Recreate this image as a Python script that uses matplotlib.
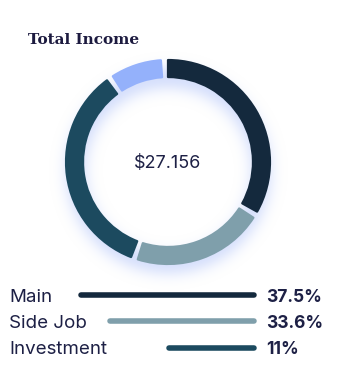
import numpy as np
import matplotlib
matplotlib.use("Agg")
import matplotlib.pyplot as plt
from matplotlib.patches import Wedge

ring_names = ['Main', 'Side Job', 'Investment', 'Other']
ring_values = [34.2, 21.7, 35.0, 9.1]
ring_colors = ['#14293d', '#7f9fab', '#1c4a5f', '#94b1fb']

# legend rows
legend_names = ['Main', 'Side Job', 'Investment']
legend_pcts = ['37.5%', '33.6%', '11%']
legend_bars = [100, 84, 51]  # bar length relative to the longest
legend_colors = ['#14293d', '#7f9fab', '#1c4a5f']

total_label = '$27.156'
title = 'Total Income'

W, H = 347, 379
fig = plt.figure(figsize=(W / 100, H / 100), dpi=100)
fig.patch.set_facecolor('white')

# donut axes: centre (168,162), outer radius 103 px
cx, cy, R = 168, 162, 103
span = 1.45
ax = fig.add_axes([(cx - R * span) / W, 1 - (cy + R * span) / H,
                   2 * R * span / W, 2 * R * span / H])
ax.set_xlim(-span, span)
ax.set_ylim(-span, span)
ax.set_aspect('equal')
ax.axis('off')

width = 0.185
# soft shadow below the ring
n = 400
g = np.linspace(-span, span, n)
X, Y = np.meshgrid(g, g)
rr = np.hypot(X, Y + 0.09)
mask = ((rr < 0.99) & (rr > 1 - width)).astype(float)
sig = 0.07 / (2 * span / n)
k = np.arange(-int(4 * sig), int(4 * sig) + 1)
kern = np.exp(-0.5 * (k / sig) ** 2)
kern /= kern.sum()
blur = np.apply_along_axis(lambda v: np.convolve(v, kern, mode='same'), 0, mask)
blur = np.apply_along_axis(lambda v: np.convolve(v, kern, mode='same'), 1, blur)
img = np.zeros((n, n, 4))
img[..., 0] = 0.70
img[..., 1] = 0.77
img[..., 2] = 0.98
img[..., 3] = np.clip(blur * 0.65, 0, 1)
ax.imshow(img, extent=(-span, span, -span, span), origin='lower', zorder=0)

gap = 4.0
start = 92.0
tot = sum(ring_values)
for v, c in zip(ring_values, ring_colors):
    sweep = v / tot * 360
    t2 = start - gap / 2
    t1 = start - sweep + gap / 2
    ax.add_patch(Wedge((0, 0), 1 - 0.01, t1, t2, width=width - 0.02,
                       facecolor=c, edgecolor=c, linewidth=1.6,
                       joinstyle='round', zorder=2))
    start -= sweep

ax.text(0, -0.01, total_label, ha='center', va='center', fontsize=13,
        color='#1d2045', family='Inter')

# title
fig.text(28 / W, 1 - 44 / H, title, ha='left', va='baseline', fontsize=11,
         fontweight='bold', family='DejaVu Serif', color='#1c1a3f')

# legend rows in a canvas axes
lax = fig.add_axes([0, 0, 1, 1], zorder=3)
lax.set_xlim(0, W)
lax.set_ylim(H, 0)
lax.axis('off')
lax.patch.set_alpha(0)
row_y = [295, 321, 347.5]
bar_right, bar_full = 257, 178
for i, name in enumerate(legend_names):
    y = row_y[i]
    lax.text(9, y + 6.5, name, ha='left', va='baseline', fontsize=13.5,
             family='Inter', color='#1d2045')
    x0 = bar_right - bar_full * legend_bars[i] / 100
    lax.plot([x0 + 2.5, bar_right - 2.5], [y, y], color=legend_colors[i],
             linewidth=4.0, solid_capstyle='round')
    lax.text(266, y + 6.5, legend_pcts[i], ha='left', va='baseline',
             fontsize=12.5, fontweight='bold', family='Inter', color='#1d2045')

fig.savefig('out.png', dpi=100, facecolor='white')
